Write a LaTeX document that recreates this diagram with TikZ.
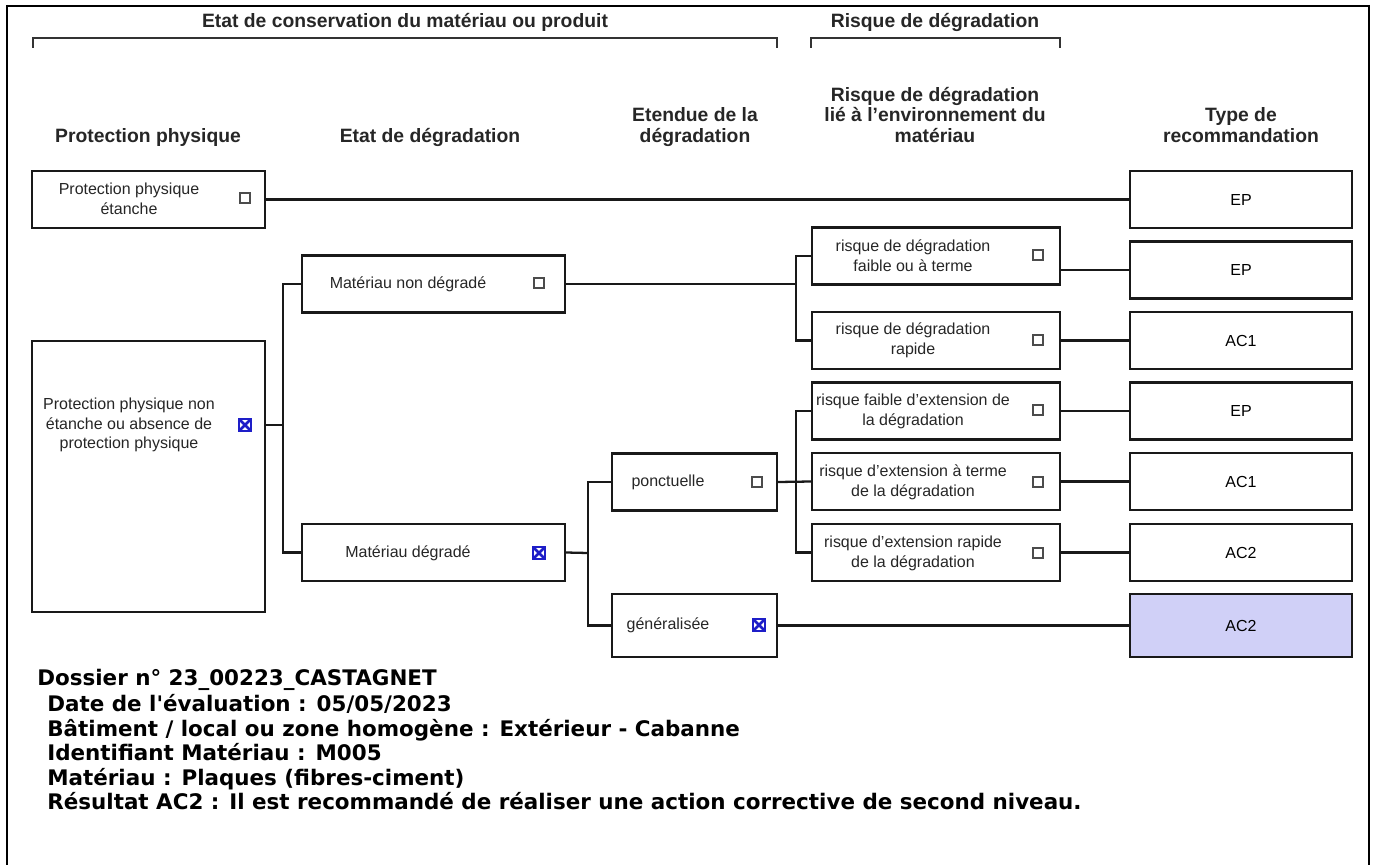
\documentclass[tikz,border=0pt]{standalone}
\usepackage{fontspec}
\setmainfont{Liberation Sans}
\newfontfamily\verd{DejaVu Sans}
\usepackage{xcolor}
\definecolor{lav}{RGB}{208,208,247}
\definecolor{crossblue}{RGB}{30,30,200}

\begin{document}
\begin{tikzpicture}[x=0.02cm,y=-0.02cm,
box/.style={draw=black!90,line width=1.2pt,inner sep=0pt},
pbox/.style={box,minimum width=4.66cm,minimum height=1.14cm},
dbox/.style={box,minimum width=5.26cm,minimum height=1.14cm},
ebox/.style={box,minimum width=3.3cm,minimum height=1.14cm},
rbox/.style={box,minimum width=4.96cm,minimum height=1.14cm},
tbox/.style={box,minimum width=4.44cm,minimum height=1.14cm,font=\fontsize{9.1}{11.3}\selectfont},
txt/.style={font=\fontsize{9.1}{11.3}\selectfont,align=center,inner sep=0pt,text=black!85},
hd/.style={font=\bfseries\fontsize{11}{11.5}\selectfont,align=center,anchor=base,inner sep=0pt,text=black!85},
chk/.style={draw=black!70,line width=0.7pt,minimum size=0.2cm,inner sep=0pt},
chkx/.style={draw=crossblue,line width=1.1pt,minimum size=0.23cm,inner sep=0pt,
  path picture={\draw[crossblue,line width=1.5pt] (path picture bounding box.north west) -- (path picture bounding box.south east)
  (path picture bounding box.north east) -- (path picture bounding box.south west);}},
link/.style={draw=black!90,line width=1.3pt},
info/.style={font=\verd\bfseries\fontsize{12.2}{14}\selectfont,inner sep=0pt,align=left}
]
\useasboundingbox (0,0) rectangle (1376,865);
\draw[line width=0.7pt] (7,6) -- (1369,6);
\draw[line width=1.6pt] (7,5) -- (7,865) (7,6) -- (21,6);
\draw[line width=1.6pt] (1369,5) -- (1369,865) (1353,6) -- (1369,6);

\node[hd] (title1) at (405,28) {Etat de conservation du matériau ou produit};
\node[hd] (title2) at (935,28) {Risque de dégradation};
\draw[line width=1.2pt,black!80] (33,48) -- (33,38) -- (777,38) -- (777,48);
\draw[line width=1.2pt,black!80] (811,48) -- (811,38) -- (1060,38) -- (1060,48);

\node[hd] (hprot) at (148,142) {Protection physique};
\node[hd] (hetat) at (430,142) {Etat de dégradation};
\node[hd] (hetend) at (695,142) {Etendue de la\\dégradation};
\node[hd] (hrisq) at (935,142) {Risque de dégradation\\lié à l'environnement du\\matériau};
\node[hd] (htype) at (1241,142) {Type de\\recommandation};

\node[pbox] (ppe) at (148.5,199.5) {};
\node[txt] (ppet) at (129,199) {Protection physique\\étanche};
\node[chk] (ppec) at (245,198) {};
\node[pbox,minimum height=5.42cm] (ppne) at (148.5,476.5) {};
\node[txt] (ppnet) at (129,425) {Protection physique non\\étanche ou absence de\\protection physique};
\node[chkx] (ppnec) at (245,425) {};

\node[dbox] (mnd) at (433.5,284) {};
\node[txt] (mndt) at (408,284) {Matériau non dégradé};
\node[chk] (mndc) at (539,283) {};
\node[dbox] (md) at (433.5,552.5) {};
\node[txt] (mdt) at (408,553) {Matériau dégradé};
\node[chkx] (mdc) at (539,553) {};

\node[ebox] (ponc) at (694.5,482) {};
\node[txt] (ponct) at (668,482) {ponctuelle};
\node[chk] (poncc) at (757,482) {};
\node[ebox,minimum height=1.26cm] (gen) at (694.5,625.5) {};
\node[txt] (gent) at (668,625) {généralisée};
\node[chkx] (genc) at (759,625) {};

\node[rbox] (rdf) at (936,256) {};
\node[txt] (rdft) at (913,256) {risque de dégradation\\faible ou à terme};
\node[chk] (rdfc) at (1038,255) {};
\node[rbox] (rdr) at (936,340.5) {};
\node[txt] (rdrt) at (913,340) {risque de dégradation\\rapide};
\node[chk] (rdrc) at (1038,340) {};
\node[rbox] (rfe) at (936,411) {};
\node[txt] (rfet) at (913,411) {risque faible d'extension de\\la dégradation};
\node[chk] (rfec) at (1038,410) {};
\node[rbox] (ret) at (936,481.5) {};
\node[txt] (rett) at (913,482) {risque d'extension à terme\\de la dégradation};
\node[chk] (retc) at (1038,482) {};
\node[rbox] (rer) at (936,552.5) {};
\node[txt] (rert) at (913,553) {risque d'extension rapide\\de la dégradation};
\node[chk] (rerc) at (1038,553) {};

\node[tbox] (ep1) at (1241,199.5) {EP};
\node[tbox] (ep2) at (1241,270) {EP};
\node[tbox] (ac1a) at (1241,340.5) {AC1};
\node[tbox] (ep3) at (1241,411) {EP};
\node[tbox] (ac1b) at (1241,481.5) {AC1};
\node[tbox] (ac2a) at (1241,552.5) {AC2};
\node[tbox,fill=lav,minimum height=1.26cm] (ac2b) at (1241,625.5) {AC2};

\coordinate (j1) at (283,425);
\coordinate (j2) at (588,553);
\coordinate (j3) at (796,284);
\coordinate (j4) at (796,482);

\draw[link] (ppe.east) -- (ep1.west);
\draw[link] (ppnec -| ppne.east) -- (j1);
\draw[link] (mnd.west) -| (j1) |- (md.west);
\draw[link] (md.east) -- (j2);
\draw[link] (ponc.west) -| (j2) |- (gen.west);
\draw[link] (mnd.east) -- (j3);
\draw[link] (rdf.west) -| (j3) |- (rdr.west);
\draw[link] (ponc.east) -- (ret.west);
\draw[link] (rfe.west) -| (j4) |- (rer.west);
\draw[link] (ep2.west -| rdf.east) -- (ep2.west);
\draw[link] (rdr.east) -- (ac1a.west);
\draw[link] (rfe.east) -- (ep3.west);
\draw[link] (ret.east) -- (ac1b.west);
\draw[link] (rer.east) -- (ac2a.west);
\draw[link] (gen.east) -- (ac2b.west);

\node[info,anchor=north west] (dossier) at (37,669) {Dossier n° 23\_00223\_CASTAGNET};
\node[info,anchor=north west] (details) at (47,694) {Date de l'évaluation : 05/05/2023\\
Bâtiment / local ou zone homogène : Extérieur - Cabanne\\
Identifiant Matériau : M005\\
Matériau : Plaques (fibres-ciment)\\
Résultat AC2 : Il est recommandé de réaliser une action corrective de second niveau.};
\end{tikzpicture}
\end{document}
